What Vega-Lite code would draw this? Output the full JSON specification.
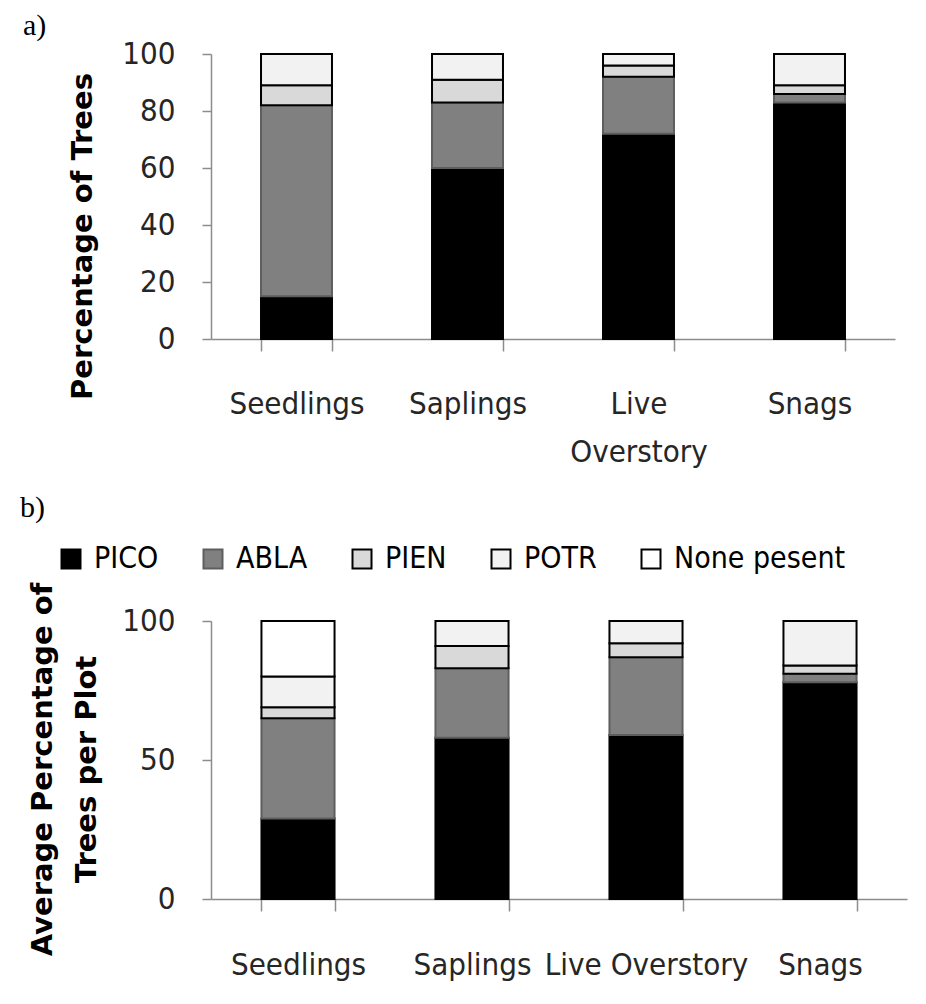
{
  "$schema": "https://vega.github.io/schema/vega-lite/v6.json",
  "background": "white",
  "padding": {"left": 20, "top": 11, "right": 19, "bottom": 10},
  "datasets": {
    "a": [
      {"category": "Seedlings", "species": "PICO", "value": 15},
      {"category": "Seedlings", "species": "ABLA", "value": 67},
      {"category": "Seedlings", "species": "PIEN", "value": 7},
      {"category": "Seedlings", "species": "POTR", "value": 11},
      {"category": "Saplings", "species": "PICO", "value": 60},
      {"category": "Saplings", "species": "ABLA", "value": 23},
      {"category": "Saplings", "species": "PIEN", "value": 8},
      {"category": "Saplings", "species": "POTR", "value": 9},
      {"category": "Live Overstory", "species": "PICO", "value": 72},
      {"category": "Live Overstory", "species": "ABLA", "value": 20},
      {"category": "Live Overstory", "species": "PIEN", "value": 4},
      {"category": "Live Overstory", "species": "POTR", "value": 4},
      {"category": "Snags", "species": "PICO", "value": 83},
      {"category": "Snags", "species": "ABLA", "value": 3},
      {"category": "Snags", "species": "PIEN", "value": 3},
      {"category": "Snags", "species": "POTR", "value": 11}
    ],
    "b": [
      {"category": "Seedlings", "species": "PICO", "value": 29},
      {"category": "Seedlings", "species": "ABLA", "value": 36},
      {"category": "Seedlings", "species": "PIEN", "value": 4},
      {"category": "Seedlings", "species": "POTR", "value": 11},
      {"category": "Seedlings", "species": "None pesent", "value": 20},
      {"category": "Saplings", "species": "PICO", "value": 58},
      {"category": "Saplings", "species": "ABLA", "value": 25},
      {"category": "Saplings", "species": "PIEN", "value": 8},
      {"category": "Saplings", "species": "POTR", "value": 9},
      {"category": "Live Overstory", "species": "PICO", "value": 59},
      {"category": "Live Overstory", "species": "ABLA", "value": 28},
      {"category": "Live Overstory", "species": "PIEN", "value": 5},
      {"category": "Live Overstory", "species": "POTR", "value": 8},
      {"category": "Snags", "species": "PICO", "value": 78},
      {"category": "Snags", "species": "ABLA", "value": 3},
      {"category": "Snags", "species": "PIEN", "value": 3},
      {"category": "Snags", "species": "POTR", "value": 16}
    ]
  },
  "config": {
    "view": {"stroke": null},
    "font": "DejaVu Sans Condensed",
    "axis": {
      "grid": false,
      "domainColor": "#8c8c8c",
      "domainWidth": 1.5,
      "tickColor": "#8c8c8c",
      "tickWidth": 1.5,
      "labelColor": "#262626",
      "labelFont": "DejaVu Sans Condensed",
      "labelFontSize": 31,
      "titleFont": "DejaVu Sans",
      "titleFontWeight": "bold",
      "titleFontSize": 29,
      "titleColor": "#000000"
    },
    "title": {"font": "Liberation Serif", "fontSize": 30, "fontWeight": "normal", "color": "#000000", "anchor": "start", "frame": "group"},
    "legend": {"symbolStrokeWidth": 2}
  },
  "vconcat": [
    {
      "data": {"name": "a"},
      "transform": [{"calculate": "indexof(['PICO','ABLA','PIEN','POTR','None pesent'], datum.species)", "as": "stackRank"}],
      "width": 684,
      "height": 285,
      "title": {"text": "a)", "dx": -188, "offset": -27, "baseline": "alphabetic"},
      "mark": {"type": "bar", "strokeWidth": 2},
      "encoding": {
        "x": {
          "field": "category", "type": "nominal",
          "sort": ["Seedlings", "Saplings", "Live Overstory", "Snags"],
          "scale": {"paddingInner": 0.585, "paddingOuter": 0.2925},
          "axis": {
            "title": null, "labelAngle": 0, "tickBand": "extent", "tickSize": 12,
            "labelPadding": 38, "labelOverlap": false, "labelLimit": 400,
            "labelLineHeight": 48,
            "labelExpr": "datum.label == 'Live Overstory' ? ['Live', 'Overstory'] : datum.label"
          }
        },
        "y": {
          "field": "value", "type": "quantitative", "stack": "zero",
          "scale": {"domain": [0, 100], "nice": false},
          "axis": {
            "title": "Percentage of Trees", "values": [0, 20, 40, 60, 80, 100],
            "tickSize": 9, "labelPadding": 27,
            "titleX": -120, "titleY": 182, "titleAngle": -90, "titleBaseline": "alphabetic", "titleAlign": "center"
          }
        },
        "order": {"field": "stackRank", "type": "quantitative", "sort": "ascending"},
        "color": {
          "field": "species", "type": "nominal",
          "scale": {"domain": ["PICO", "ABLA", "PIEN", "POTR", "None pesent"], "range": ["#000000", "#808080", "#d9d9d9", "#f2f2f2", "#ffffff"]},
          "legend": null
        },
        "stroke": {
          "field": "species", "type": "nominal",
          "scale": {"domain": ["PICO", "ABLA", "PIEN", "POTR", "None pesent"], "range": ["#000000", "#5e5e5e", "#000000", "#000000", "#000000"]},
          "legend": null
        }
      }
    },
    {
      "data": {"name": "b"},
      "transform": [{"calculate": "indexof(['PICO','ABLA','PIEN','POTR','None pesent'], datum.species)", "as": "stackRank"}],
      "width": 696,
      "height": 278,
      "title": {"text": "b)", "dx": -191, "offset": -3, "baseline": "alphabetic"},
      "mark": {"type": "bar", "strokeWidth": 2},
      "encoding": {
        "x": {
          "field": "category", "type": "nominal",
          "sort": ["Seedlings", "Saplings", "Live Overstory", "Snags"],
          "scale": {"paddingInner": 0.58, "paddingOuter": 0.29},
          "axis": {
            "title": null, "labelAngle": 0, "tickBand": "extent", "tickSize": 12,
            "labelPadding": 39, "labelOverlap": false, "labelLimit": 400
          }
        },
        "y": {
          "field": "value", "type": "quantitative", "stack": "zero",
          "scale": {"domain": [0, 100], "nice": false},
          "axis": {
            "title": ["Average Percentage of", "Trees per Plot"], "values": [0, 50, 100],
            "tickSize": 9, "labelPadding": 27,
            "titleX": -160, "titleY": 148, "titleAngle": -90, "titleBaseline": "alphabetic", "titleAlign": "center",
            "titleLineHeight": 44
          }
        },
        "order": {"field": "stackRank", "type": "quantitative", "sort": "ascending"},
        "color": {
          "field": "species", "type": "nominal",
          "scale": {"domain": ["PICO", "ABLA", "PIEN", "POTR", "None pesent"], "range": ["#000000", "#808080", "#d9d9d9", "#f2f2f2", "#ffffff"]},
          "legend": {
            "title": null, "orient": "none", "direction": "horizontal",
            "legendX": -155, "legendY": -77,
            "symbolType": "square", "symbolSize": 361,
            "labelFont": "DejaVu Sans Condensed",
            "labelFontSize": 30, "labelColor": "#000000", "labelOffset": 8,
            "columnPadding": 39, "labelLimit": 400
          }
        },
        "stroke": {
          "field": "species", "type": "nominal",
          "scale": {"domain": ["PICO", "ABLA", "PIEN", "POTR", "None pesent"], "range": ["#000000", "#5e5e5e", "#000000", "#000000", "#000000"]}
        }
      }
    }
  ],
  "bounds": "flush",
  "spacing": 282,
  "resolve": {"scale": {"color": "independent", "stroke": "independent"}, "legend": {"color": "independent", "stroke": "independent"}}
}
